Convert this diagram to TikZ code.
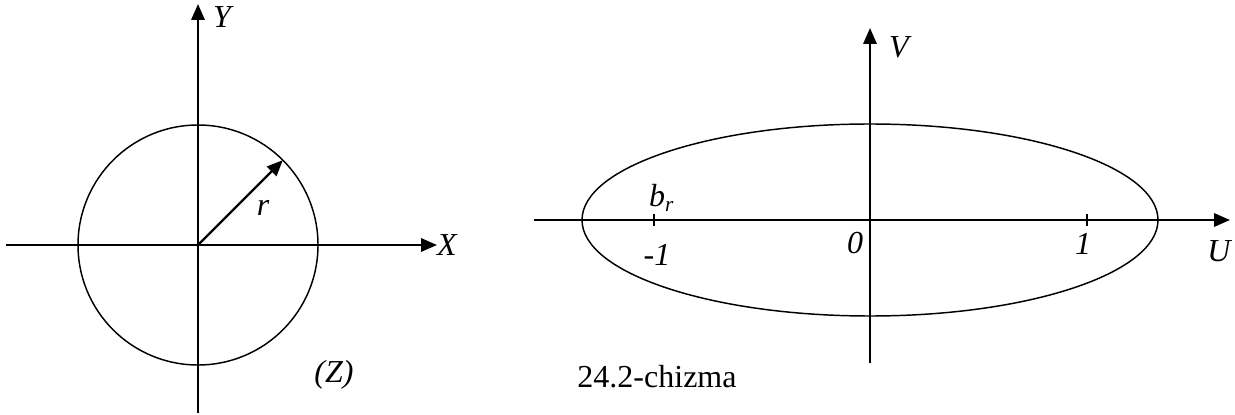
\documentclass[tikz,border=0pt]{standalone}
\usepackage{fontspec}
\setmainfont{Liberation Serif}
\usetikzlibrary{arrows.meta}
\begin{document}
\begin{tikzpicture}[x=37.5pt,y=37.5pt,
  >={Triangle[length=6pt,width=5pt]},
  axis/.style={line width=0.8pt},
  curve/.style={line width=0.55pt},
  lbl/.style={font=\fontsize{12}{14}\selectfont\itshape,inner sep=0pt},
  figcaption/.style={font=\fontsize{12}{14}\selectfont,inner sep=0pt}]
\useasboundingbox (0,0) rectangle (12.35,4.14);

% z plane
\coordinate (O1) at (1.98,1.69);
\coordinate (xa) at (0.06,1.69);
\coordinate (xb) at (4.37,1.69);
\coordinate (ya) at (1.98,0.01);
\coordinate (yb) at (1.98,4.10);
\draw[axis,->] (xa) -- (xb);
\draw[axis,->] (ya) -- (yb);
\draw[curve] (O1) circle (1.2);
\path (O1) ++(45:1.2) coordinate (rp);
\draw[axis,->] (O1) -- (rp);

\node[lbl] (xlab) at (4.47,1.69) {X};
\node[lbl] (ylab) at (2.22,3.97) {Y};
\node[lbl] (rlab) at (2.63,2.06) {r};
\node[lbl] (zlab) at (3.34,0.39) {(Z)};

% w plane
\coordinate (O2) at (8.70,1.94);
\coordinate (ua) at (5.34,1.94);
\coordinate (ub) at (12.30,1.94);
\coordinate (va) at (8.70,0.51);
\coordinate (vb) at (8.70,3.86);
\draw[axis,->] (ua) -- (ub);
\draw[axis,->] (va) -- (vb);
\draw[curve] (O2) ellipse (2.88 and 0.96);
\foreach \t in {-2.16,2.17}
  \draw[curve] (O2) ++(\t,0.06) -- ++(0,-0.12);

\node[lbl] (ulab) at (12.19,1.63) {U};
\node[lbl] (vlab) at (8.99,3.67) {V};
\node[lbl] (brlab) at (6.62,2.16) {b\textsubscript{\itshape r}};
\node[lbl] (mlab) at (6.57,1.59) {-1};
\node[lbl] (olab) at (8.55,1.71) {0};
\node[lbl] (plab) at (10.83,1.70) {1};
\node[figcaption] (fig) at (6.57,0.37) {24.2-chizma};
\end{tikzpicture}
\end{document}
